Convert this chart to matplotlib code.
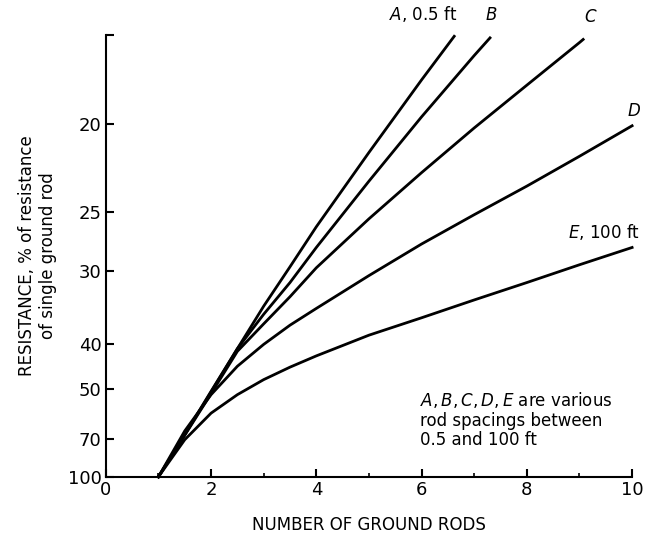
import matplotlib
matplotlib.use("Agg")
import matplotlib.pyplot as plt
import numpy as np

# okunan degerler - direnc, tek cubugun yuzdesi
rods = [1, 1.5, 2, 2.5, 3, 3.5, 4, 5, 6, 7, 8, 9, 10]
rods_A = [1, 1.5, 2, 2.5, 3, 3.5, 4, 5, 6, 6.62]
res_A = [100, 67.6, 50.8, 40.8, 34.1, 29.6, 26.1, 21.4, 18.2, 16.7]
rods_B = [1, 1.5, 2, 2.5, 3, 3.5, 4, 5, 6, 7, 7.3]
res_B = [100, 67.8, 51.0, 40.8, 35.2, 31.25, 27.8, 23.0, 19.7, 17.33, 16.75]
rods_C = [1, 1.5, 2, 2.5, 3, 3.5, 4, 5, 6, 7, 8, 9, 9.07]
res_C = [100, 68.0, 51.5, 41.3, 36.6, 32.9, 29.7, 25.5, 22.5, 20.2, 18.4, 16.9, 16.8]
res_D = [100, 65.8, 51.8, 44.4, 40.0, 36.8, 34.4, 30.5, 27.5, 25.2, 23.3, 21.6, 20.1]
res_E = [100, 70.4, 58.1, 51.8, 47.6, 44.6, 42.2, 38.4, 35.7, 33.3, 31.25, 29.4, 27.8]

ytick_vals = [100, 70, 50, 40, 30, 25, 20, 100 / 6]
ytick_labels = ["100", "70", "50", "40", "30", "25", "20", ""]


def fwd(r):
    r = np.asarray(r, dtype=float)
    with np.errstate(divide="ignore", invalid="ignore"):
        return 100.0 / r


def inv(c):
    c = np.asarray(c, dtype=float)
    with np.errstate(divide="ignore", invalid="ignore"):
        return 100.0 / c


fig = plt.figure(figsize=(6.53, 5.34), dpi=100)
ax = fig.add_axes([0.162, 0.107, 0.806, 0.827])
ax.set_yscale("function", functions=(fwd, inv))

lw = 2.0
ax.plot(rods_A, res_A, color="black", lw=lw, clip_on=False, solid_joinstyle="round")
ax.plot(rods_B, res_B, color="black", lw=lw, clip_on=False, solid_joinstyle="round")
ax.plot(rods_C, res_C, color="black", lw=lw, clip_on=False, solid_joinstyle="round")
ax.plot(rods, res_D, color="black", lw=lw, clip_on=False, solid_joinstyle="round")
ax.plot(rods, res_E, color="black", lw=lw, clip_on=False, solid_joinstyle="round")

ax.set_xlim(0, 10)
ax.set_ylim(100, 100 / 6)
ax.invert_yaxis()

ax.set_xticks([0, 2, 4, 6, 8, 10])
ax.set_xticks([1, 3, 5, 7, 9], minor=True)
ax.set_yticks(ytick_vals)
ax.set_yticklabels(ytick_labels)
ax.yaxis.set_minor_locator(matplotlib.ticker.NullLocator())
ax.tick_params(direction="in", length=6, width=1.5, labelsize=13, pad=3, color="black")
ax.tick_params(axis="x", which="minor", direction="in", length=3, width=1.2)

for s in ["top", "right"]:
    ax.spines[s].set_visible(False)
for s in ["left", "bottom"]:
    ax.spines[s].set_linewidth(1.5)

ax.set_xlabel("NUMBER OF GROUND RODS", fontsize=12, labelpad=12)
ax.set_ylabel("RESISTANCE, % of resistance\nof single ground rod", fontsize=12,
              multialignment="center", labelpad=8)

# egri etiketleri
kw = dict(textcoords="offset pixels", fontsize=12, annotation_clip=False)
ax.annotate(r"$\mathit{A}$, 0.5 ft", xy=(rods_A[-1], res_A[-1]), xytext=(3, 22), ha="right", va="center", **kw)
ax.annotate(r"$\mathit{B}$", xy=(rods_B[-1], res_B[-1]), xytext=(1, 23), ha="center", va="center", **kw)
ax.annotate(r"$\mathit{C}$", xy=(rods_C[-1], res_C[-1]), xytext=(8, 22), ha="center", va="center", **kw)
ax.annotate(r"$\mathit{D}$", xy=(rods[-1], res_D[-1]), xytext=(2, 15), ha="center", va="center", **kw)
ax.annotate(r"$\mathit{E}$, 100 ft", xy=(rods[-1], res_E[-1]), xytext=(8, 15), ha="right", va="center", **kw)

ax.text(5.97, 50.5, r"$A, B, C, D, E$ are various" + "\nrod spacings between\n0.5 and 100 ft",
        fontsize=12, ha="left", va="top", linespacing=1.1)

fig.savefig("out.png", dpi=100)
